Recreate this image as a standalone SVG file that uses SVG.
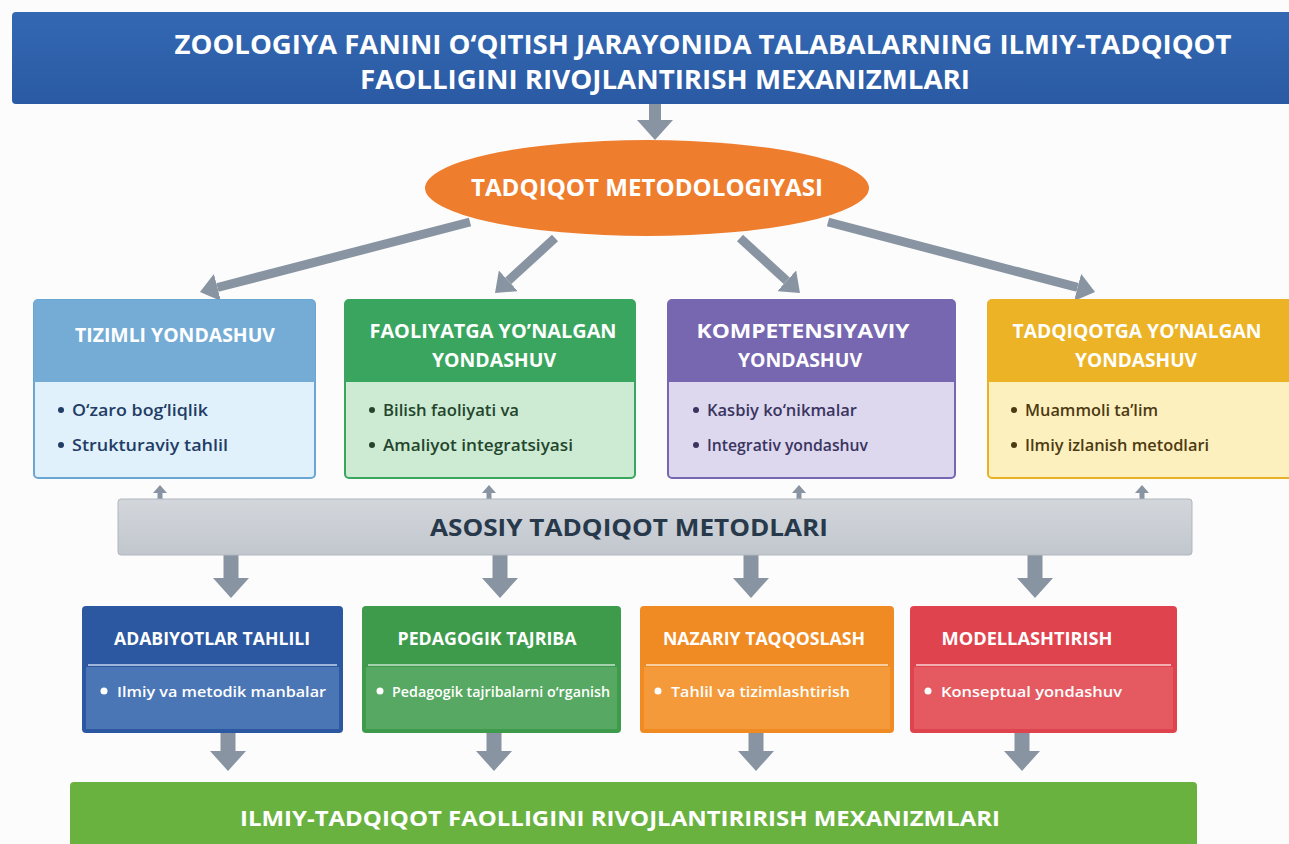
<svg xmlns="http://www.w3.org/2000/svg" width="1289" height="844" viewBox="0 0 1289 844">
<defs>
<style>
.t{font-family:"Open Sans","Liberation Sans",sans-serif;font-weight:700;fill:#fff;text-anchor:middle}
.b{font-family:"Open Sans","Liberation Sans",sans-serif;font-weight:600;font-size:16px}
.bw{font-family:"Open Sans","Liberation Sans",sans-serif;font-weight:600;font-size:15px;fill:#fff}
.ar{stroke:#8894a1;fill:none}
</style>
<marker id="ah" markerUnits="userSpaceOnUse" markerWidth="20" markerHeight="36" viewBox="0 0 20 36" refX="0" refY="18" orient="auto"><path d="M0,0 L20,18 L0,36 z" fill="#8894a1"/></marker>
<marker id="ahs" markerUnits="userSpaceOnUse" markerWidth="18" markerHeight="28" viewBox="0 0 18 28" refX="0" refY="14" orient="auto"><path d="M0,0 L18,14 L0,28 z" fill="#8894a1"/></marker>
<marker id="ahx" markerUnits="userSpaceOnUse" markerWidth="8" markerHeight="14" viewBox="0 0 8 14" refX="0" refY="7" orient="auto"><path d="M0,0 L8,7 L0,14 z" fill="#8894a1"/></marker>
<linearGradient id="gTitle" x1="0" y1="0" x2="0" y2="1"><stop offset="0" stop-color="#3468b3"/><stop offset="1" stop-color="#2a5aa3"/></linearGradient>
<linearGradient id="gBar" x1="0" y1="0" x2="0" y2="1"><stop offset="0" stop-color="#d3d7dc"/><stop offset="1" stop-color="#c2c7ce"/></linearGradient>
</defs>
<rect width="1289" height="844" fill="#fcfcfc"/>

<g id="connectors">
<line class="ar" x1="655" y1="104" x2="655" y2="120" stroke-width="12" marker-end="url(#ah)"/>
<line class="ar" x1="470" y1="222" x2="217.4" y2="287.5" stroke-width="9" marker-end="url(#ahs)"/>
<line class="ar" x1="555" y1="238" x2="508.3" y2="280.8" stroke-width="9" marker-end="url(#ahs)"/>
<line class="ar" x1="740" y1="238" x2="786.7" y2="280.8" stroke-width="9" marker-end="url(#ahs)"/>
<line class="ar" x1="828" y1="222" x2="1077.6" y2="287.4" stroke-width="9" marker-end="url(#ahs)"/>
<line class="ar" x1="160" y1="499" x2="160" y2="493" stroke-width="5" marker-end="url(#ahx)"/>
<line class="ar" x1="489" y1="499" x2="489" y2="493" stroke-width="5" marker-end="url(#ahx)"/>
<line class="ar" x1="799" y1="499" x2="799" y2="493" stroke-width="5" marker-end="url(#ahx)"/>
<line class="ar" x1="1142" y1="499" x2="1142" y2="493" stroke-width="5" marker-end="url(#ahx)"/>
<line class="ar" x1="231" y1="554" x2="231" y2="578" stroke-width="15" marker-end="url(#ah)"/>
<line class="ar" x1="500" y1="554" x2="500" y2="578" stroke-width="15" marker-end="url(#ah)"/>
<line class="ar" x1="751" y1="554" x2="751" y2="578" stroke-width="15" marker-end="url(#ah)"/>
<line class="ar" x1="1035" y1="554" x2="1035" y2="578" stroke-width="15" marker-end="url(#ah)"/>
<line class="ar" x1="228" y1="733" x2="228" y2="751" stroke-width="15" marker-end="url(#ah)"/>
<line class="ar" x1="494" y1="733" x2="494" y2="751" stroke-width="15" marker-end="url(#ah)"/>
<line class="ar" x1="756" y1="733" x2="756" y2="751" stroke-width="15" marker-end="url(#ah)"/>
<line class="ar" x1="1022" y1="733" x2="1022" y2="751" stroke-width="15" marker-end="url(#ah)"/>
</g>

<g id="title">
<rect x="12" y="12" width="1290" height="92" rx="4" fill="url(#gTitle)"/>
<text class="t" x="703" y="54" font-size="26" textLength="1057" lengthAdjust="spacingAndGlyphs">ZOOLOGIYA FANINI O‘QITISH JARAYONIDA TALABALARNING ILMIY-TADQIQOT</text>
<text class="t" x="665" y="89" font-size="26" textLength="610" lengthAdjust="spacingAndGlyphs">FAOLLIGINI RIVOJLANTIRISH MEXANIZMLARI</text>
</g>

<g id="metodologiya">
<ellipse cx="647" cy="188" rx="222" ry="48" fill="#ee7d2e"/>
<text class="t" x="647" y="196" font-size="24" textLength="352" lengthAdjust="spacingAndGlyphs">TADQIQOT METODOLOGIYASI</text>
</g>

<g id="tizimli">
<rect x="34" y="300" width="281" height="178" rx="4" fill="#e1f1fb" stroke="#6aa6d4" stroke-width="2"/>
<path d="M34,382 V304 a4,4 0 0 1 4,-4 H311 a4,4 0 0 1 4,4 V382 z" fill="#74acd6"/>
<text class="t" x="175" y="342" font-size="19" textLength="200" lengthAdjust="spacingAndGlyphs">TIZIMLI YONDASHUV</text>
<circle cx="61" cy="410" r="3" fill="#1f3d66"/><text class="b" x="72" y="416" fill="#1f3d66" textLength="136" lengthAdjust="spacingAndGlyphs">O‘zaro bog‘liqlik</text>
<circle cx="61" cy="445" r="3" fill="#1f3d66"/><text class="b" x="72" y="451" fill="#1f3d66" textLength="156" lengthAdjust="spacingAndGlyphs">Strukturaviy tahlil</text>
</g>

<g id="faoliyatga">
<rect x="345" y="300" width="290" height="178" rx="4" fill="#cdebd3" stroke="#3aa55e" stroke-width="2"/>
<path d="M345,382 V304 a4,4 0 0 1 4,-4 H631 a4,4 0 0 1 4,4 V382 z" fill="#3aa55e"/>
<text class="t" x="493" y="338" font-size="19" textLength="247" lengthAdjust="spacingAndGlyphs">FAOLIYATGA YO’NALGAN</text>
<text class="t" x="494" y="367" font-size="19" textLength="124" lengthAdjust="spacingAndGlyphs">YONDASHUV</text>
<circle cx="372" cy="410" r="3" fill="#24452c"/><text class="b" x="383" y="416" fill="#24452c" textLength="136" lengthAdjust="spacingAndGlyphs">Bilish faoliyati va</text>
<circle cx="372" cy="445" r="3" fill="#24452c"/><text class="b" x="383" y="451" fill="#24452c" textLength="190" lengthAdjust="spacingAndGlyphs">Amaliyot integratsiyasi</text>
</g>

<g id="kompetensiyaviy">
<rect x="668" y="300" width="287" height="178" rx="4" fill="#ddd8ee" stroke="#7767b1" stroke-width="2"/>
<path d="M668,382 V304 a4,4 0 0 1 4,-4 H951 a4,4 0 0 1 4,4 V382 z" fill="#7767b1"/>
<text class="t" x="803" y="338" font-size="19" textLength="213" lengthAdjust="spacingAndGlyphs">KOMPETENSIYAVIY</text>
<text class="t" x="800" y="367" font-size="19" textLength="124" lengthAdjust="spacingAndGlyphs">YONDASHUV</text>
<circle cx="696" cy="410" r="3" fill="#3a3460"/><text class="b" x="707" y="416" fill="#3a3460" textLength="150" lengthAdjust="spacingAndGlyphs">Kasbiy ko‘nikmalar</text>
<circle cx="696" cy="445" r="3" fill="#3a3460"/><text class="b" x="707" y="451" fill="#3a3460" textLength="161" lengthAdjust="spacingAndGlyphs">Integrativ yondashuv</text>
</g>

<g id="tadqiqotga">
<rect x="988" y="300" width="310" height="178" rx="4" fill="#fdf0bf" stroke="#e9b126" stroke-width="2"/>
<path d="M988,382 V304 a4,4 0 0 1 4,-4 H1298 V382 z" fill="#ebb325"/>
<text class="t" x="1137" y="338" font-size="19" textLength="249" lengthAdjust="spacingAndGlyphs">TADQIQOTGA YO’NALGAN</text>
<text class="t" x="1136" y="367" font-size="19" textLength="122" lengthAdjust="spacingAndGlyphs">YONDASHUV</text>
<circle cx="1014" cy="410" r="3" fill="#4d3a12"/><text class="b" x="1025" y="416" fill="#4d3a12" textLength="133" lengthAdjust="spacingAndGlyphs">Muammoli ta’lim</text>
<circle cx="1014" cy="445" r="3" fill="#4d3a12"/><text class="b" x="1025" y="451" fill="#4d3a12" textLength="184" lengthAdjust="spacingAndGlyphs">Ilmiy izlanish metodlari</text>
</g>

<g id="asosiy">
<rect x="118" y="499" width="1074" height="56" rx="3" fill="url(#gBar)" stroke="#b0b6be" stroke-width="1"/>
<text class="t" x="629" y="536" font-size="23" style="fill:#27394b" textLength="398" lengthAdjust="spacingAndGlyphs">ASOSIY TADQIQOT METODLARI</text>
</g>

<g id="adabiyotlar">
<rect x="82" y="606" width="261" height="127" rx="4" fill="#2b58a0"/>
<rect x="86" y="667" width="253" height="62" fill="#4a76b6"/>
<line x1="88" y1="665" x2="337" y2="665" stroke="#9fb6da" stroke-width="2"/>
<text class="t" x="212" y="645" font-size="17" textLength="196" lengthAdjust="spacingAndGlyphs">ADABIYOTLAR TAHLILI</text>
<circle cx="104" cy="691" r="3.5" fill="#fff"/><text class="bw" x="117" y="697" textLength="209" lengthAdjust="spacingAndGlyphs">Ilmiy va metodik manbalar</text>
</g>

<g id="pedagogik">
<rect x="362" y="606" width="259" height="127" rx="4" fill="#3e9b4c"/>
<rect x="366" y="667" width="251" height="62" fill="#56a862"/>
<line x1="368" y1="665" x2="615" y2="665" stroke="#a6d1ad" stroke-width="2"/>
<text class="t" x="487" y="645" font-size="17" textLength="179" lengthAdjust="spacingAndGlyphs">PEDAGOGIK TAJRIBA</text>
<circle cx="380" cy="691" r="3.5" fill="#fff"/><text class="bw" x="392" y="697" textLength="218" lengthAdjust="spacingAndGlyphs">Pedagogik tajribalarni o‘rganish</text>
</g>

<g id="nazariy">
<rect x="640" y="606" width="254" height="127" rx="4" fill="#f08a22"/>
<rect x="644" y="667" width="246" height="62" fill="#f49a3a"/>
<line x1="646" y1="665" x2="888" y2="665" stroke="#f9cfa0" stroke-width="2"/>
<text class="t" x="764" y="645" font-size="17" textLength="202" lengthAdjust="spacingAndGlyphs">NAZARIY TAQQOSLASH</text>
<circle cx="658" cy="691" r="3.5" fill="#fff"/><text class="bw" x="671" y="697" textLength="179" lengthAdjust="spacingAndGlyphs">Tahlil va tizimlashtirish</text>
</g>

<g id="modellashtirish">
<rect x="910" y="606" width="267" height="127" rx="4" fill="#df444e"/>
<rect x="914" y="667" width="259" height="62" fill="#e55a61"/>
<line x1="916" y1="665" x2="1171" y2="665" stroke="#f3aeb1" stroke-width="2"/>
<text class="t" x="1027" y="645" font-size="17" textLength="171" lengthAdjust="spacingAndGlyphs">MODELLASHTIRISH</text>
<circle cx="928" cy="691" r="3.5" fill="#fff"/><text class="bw" x="941" y="697" textLength="181" lengthAdjust="spacingAndGlyphs">Konseptual yondashuv</text>
</g>

<g id="natija">
<rect x="70" y="782" width="1127" height="70" rx="4" fill="#6ab23f"/>
<text class="t" x="620" y="826" font-size="22" textLength="760" lengthAdjust="spacingAndGlyphs">ILMIY-TADQIQOT FAOLLIGINI RIVOJLANTIRIRISH MEXANIZMLARI</text>
</g>
</svg>
